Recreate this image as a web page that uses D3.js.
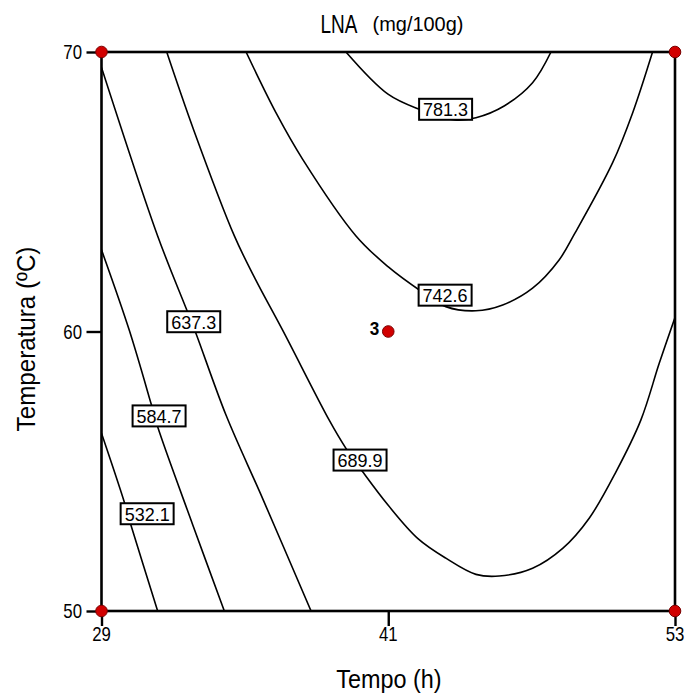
<!DOCTYPE html>
<html>
<head>
<meta charset="utf-8">
<script src="https://cdn.jsdelivr.net/npm/d3@7"></script>
<style>
  body { margin: 0; background: #fff; }
  svg { display: block; }
</style>
</head>
<body>
<svg id="chart" width="688" height="695"></svg>
<script>
// Axis ticks
const xTicks = [29, 41, 53];        // Tempo (h)
const yTicks = [50, 60, 70];        // Temperatura (ºC)

// Contour levels of LNA (mg/100g)
const levels = [532.1, 584.7, 637.3, 689.9, 742.6, 781.3];

// Contour paths, each point is [tempo, temperatura]
const contour532 = [[29, 56.36], [29.95, 53.91], [30.23, 53.08], [31.35, 50]];
const contour585 = [[29, 62.92], [30.16, 60.05], [31.07, 57.43], [31.35, 56.59], [32.82, 53.08], [34.14, 50]];
const contour637 = [[29, 69.45], [31.35, 63.42], [32.54, 60.83], [32.95, 59.94], [34.21, 57.01], [35.74, 54.03], [37.77, 50]];
const contour690 = [[31.73, 70], [32.85, 67.23], [34.56, 63.42], [35.46, 61.84], [36.58, 60.05], [38.53, 56.83],
  [39.23, 55.82], [39.93, 54.98], [40.99, 53.79], [42.23, 52.6], [43.41, 51.89], [44.67, 51.31], [45.64, 51.25],
  [47.04, 51.53], [48.3, 52.24], [49.41, 53.32], [50.53, 54.98], [51.57, 56.83], [52.34, 58.86], [53, 60.5]];
const contour743 = [[35.05, 70], [36.3, 67.83], [37.42, 66.16], [39.65, 63.42], [40.99, 62.32], [42.36, 61.45],
  [43.41, 60.89], [44.67, 60.74], [45.79, 60.95], [47.04, 61.55], [48.15, 62.56], [48.8, 63.5], [50.39, 66.04],
  [51.23, 67.83], [52.06, 70]];
const contour781 = [[39.23, 70], [40.99, 68.49], [42.3, 67.95], [43.79, 67.57], [44.67, 67.65], [45.85, 68.07],
  [47.04, 68.9], [47.81, 70]];
const contours = [contour532, contour585, contour637, contour690, contour743, contour781];

// Where each level label sits, [tempo, temperatura]
const labelPos = [[30.91, 53.48], [31.41, 56.98], [32.86, 60.35], [39.82, 55.40], [43.38, 61.30], [43.40, 67.95]];

// Design points: factorial corners and the replicated centre point
const designPts = [[29, 50], [29, 70], [53, 50], [53, 70], [41, 60]];
const centreLabel = "3";

const svg = d3.select("#chart");
const FONT = "'Liberation Sans', Arial, sans-serif";

const x = d3.scaleLinear().domain([29, 53]).range([101.5, 675]);
const y = d3.scaleLinear().domain([50, 70]).range([611, 52]);

// narrow text helper: horizontal squeeze to mimic a condensed face
function text(g, px, py, str, size, anchor, sx, opts = {}) {
  return g.append("g")
    .attr("transform", `translate(${px},${py})` + (opts.rotate ? ` rotate(${opts.rotate})` : "") + ` scale(${sx},1)`)
    .append("text")
    .attr("x", 0).attr("y", 0)
    .attr("text-anchor", anchor)
    .attr("font-family", FONT)
    .attr("font-size", size)
    .attr("font-weight", opts.weight || "normal")
    .attr("fill", "#000")
    .text(str);
}

// Contour lines
const line = d3.line()
  .x(d => x(d[0]))
  .y(d => y(d[1]))
  .curve(d3.curveCatmullRom.alpha(0.5));

svg.append("clipPath").attr("id", "plotclip")
  .append("rect").attr("x", x(29)).attr("y", y(70)).attr("width", x(53) - x(29)).attr("height", y(50) - y(70));

svg.append("g").attr("clip-path", "url(#plotclip)")
  .selectAll("path").data(contours).join("path")
  .attr("d", line)
  .attr("fill", "none")
  .attr("stroke", "#000")
  .attr("stroke-width", 1.6);

// Plot frame
svg.append("rect")
  .attr("x", x(29)).attr("y", y(70))
  .attr("width", x(53) - x(29)).attr("height", y(50) - y(70))
  .attr("fill", "none").attr("stroke", "#000").attr("stroke-width", 2.6);

// Axes
const xAxis = d3.axisBottom(x).tickValues(xTicks).tickSize(15).tickFormat(d3.format("d"));
const yAxis = d3.axisLeft(y).tickValues(yTicks).tickSize(15).tickFormat(d3.format("d"));

const gx = svg.append("g").attr("transform", `translate(0,${y(50)})`).call(xAxis);
const gy = svg.append("g").attr("transform", `translate(${x(29)},0)`).call(yAxis);
[gx, gy].forEach(g => {
  g.select(".domain").remove();
  g.selectAll(".tick line").attr("stroke", "#000").attr("stroke-width", 2.4);
  g.selectAll(".tick text").remove();
});
xTicks.forEach(v => text(svg, x(v), 641, String(v), 20, "middle", 0.84));
yTicks.forEach(v => text(svg, 82, y(v) + 7, String(v), 20, "end", 0.84));

// Level labels
const lab = svg.append("g");
levels.forEach((lv, i) => {
  const cx = x(labelPos[i][0]), cy = y(labelPos[i][1]);
  lab.append("rect")
    .attr("x", cx - 26.5).attr("y", cy - 10.5)
    .attr("width", 53).attr("height", 21)
    .attr("fill", "#fff").attr("stroke", "#000").attr("stroke-width", 2);
  lab.append("text")
    .attr("x", cx).attr("y", cy + 7)
    .attr("text-anchor", "middle")
    .attr("font-family", FONT)
    .attr("font-size", 19)
    .attr("textLength", 45)
    .attr("lengthAdjust", "spacingAndGlyphs")
    .text(d3.format(".1f")(lv));
});

// Design points
svg.append("g").selectAll("circle").data(designPts).join("circle")
  .attr("cx", d => x(d[0])).attr("cy", d => y(d[1]))
  .attr("r", 5.8)
  .attr("fill", "#d10000")
  .attr("stroke", "#7a0000").attr("stroke-width", 1);
text(svg, x(41) - 9, y(60) + 3, centreLabel, 19, "end", 0.9, { weight: "bold" });

// Titles
text(svg, 339, 33, "LNA", 25, "middle", 0.76);
text(svg, 418, 31, "(mg/100g)", 21, "middle", 0.95);
text(svg, 389, 688, "Tempo (h)", 26, "middle", 0.9);
text(svg, 35, 339, "Temperatura (ºC)", 26, "middle", 0.93, { rotate: -90 });
</script>
</body>
</html>
